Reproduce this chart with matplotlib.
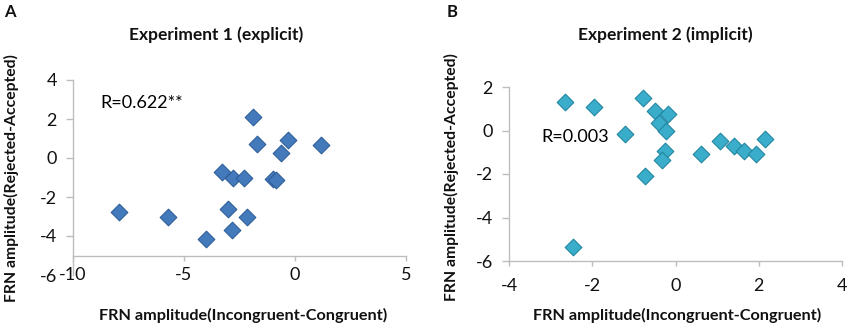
import matplotlib

matplotlib.use("Agg")
import matplotlib.pyplot as plt

plt.rcParams["font.family"] = ["Lato", "DejaVu Sans"]
plt.rcParams["axes.unicode_minus"] = False

# Experiment 1 (explicit)
exp1_x = [-7.94, -5.71, -4.02, -3.02, -2.84, -2.18, -3.27, -2.79, -2.30,
          -1.89, -1.71, -0.99, -0.84, -0.62, -0.33, 1.19]
exp1_y = [-2.78, -3.00, -4.17, -2.61, -3.71, -3.04, -0.70, -1.00, -1.03,
          2.11, 0.70, -1.08, -1.12, 0.27, 0.91, 0.69]

# Experiment 2 (implicit)
exp2_x = [-2.66, -1.96, -1.21, -0.78, -0.50, -0.19, -0.40, -0.24, -0.26,
          -0.32, -0.74, -2.46, 0.62, 1.07, 1.41, 1.64, 1.93, 2.16]
exp2_y = [1.29, 1.10, -0.15, 1.49, 0.89, 0.77, 0.34, 0.00, -0.93,
          -1.36, -2.08, -5.36, -1.07, -0.46, -0.70, -0.95, -1.07, -0.37]

exp1_xticks = [-10, -5, 0, 5]
exp1_yticks = [-6, -4, -2, 0, 2, 4]
exp2_xticks = [-4, -2, 0, 2, 4]
exp2_yticks = [-6, -4, -2, 0, 2]

AXIS_GREY = "#bdbdbd"
XLABEL = "FRN amplitude(Incongruent-Congruent)"
YLABEL = "FRN amplitude(Rejected-Accepted)"

fig = plt.figure(figsize=(8.5, 3.27), dpi=100)
W, H = 850, 327


def _axes(left, top, right, bottom):
    return fig.add_axes([left / W, 1 - bottom / H, (right - left) / W, (bottom - top) / H])


def _style(ax, xpad):
    for s in ("top", "right"):
        ax.spines[s].set_visible(False)
    for s in ("left", "bottom"):
        ax.spines[s].set_color(AXIS_GREY)
        ax.spines[s].set_linewidth(1.0)
    ax.tick_params(direction="out", width=1.0, color=AXIS_GREY,
                   labelsize=13, labelcolor="#111111")
    ax.tick_params(axis="y", length=5, pad=6.5)
    ax.tick_params(axis="x", length=3.6, pad=xpad)


# Panel A
ax1 = _axes(73, 80, 406, 275)
ax1.scatter(exp1_x, exp1_y, marker="D", s=72, color="#4479bb",
            edgecolors="#2f5f9a", linewidths=0.8, zorder=3)
ax1.set_xlim(-10, 5)
ax1.set_ylim(-6, 4)
ax1.set_xticks(exp1_xticks)
ax1.set_yticks(exp1_yticks)
_style(ax1, xpad=4.5)
ax1.spines["bottom"].set_position(("data", -5))
ax1.yaxis.get_major_ticks()[0].tick1line.set_visible(False)
ax1.text(-8.78, 2.82, "R=0.622**", fontsize=13, va="center", ha="left")

# Panel B
ax2 = _axes(509, 87, 842, 261)
ax2.scatter(exp2_x, exp2_y, marker="D", s=72, color="#3aadca",
            edgecolors="#2386a1", linewidths=0.8, zorder=3)
ax2.set_xlim(-4, 4)
ax2.set_ylim(-6, 2)
ax2.set_xticks(exp2_xticks)
ax2.set_yticks(exp2_yticks)
_style(ax2, xpad=8.5)
ax2.text(-3.22, -0.31, "R=0.003", fontsize=13, va="center", ha="left")

# titles, panel letters and axis labels placed in figure pixels
def _ftext(x, y, s, **kw):
    fig.text(x / W, 1 - y / H, s, **kw)


bold = dict(fontweight="bold", ha="center", va="center", color="#111111")
_ftext(216, 35, "Experiment 1 (explicit)", fontsize=12.5, **bold)
_ftext(665, 35, "Experiment 2 (implicit)", fontsize=12.5, **bold)
_ftext(10, 12, "A", fontsize=12, **bold)
_ftext(452, 12, "B", fontsize=12, **bold)
_ftext(243, 315, XLABEL, fontsize=11.7, **bold)
_ftext(677, 315, XLABEL, fontsize=11.7, **bold)
_ftext(11, 178, YLABEL, fontsize=11.3, rotation=90, **bold)
_ftext(451, 177, YLABEL, fontsize=11.3, rotation=90, **bold)

fig.savefig("out.png", dpi=100)
